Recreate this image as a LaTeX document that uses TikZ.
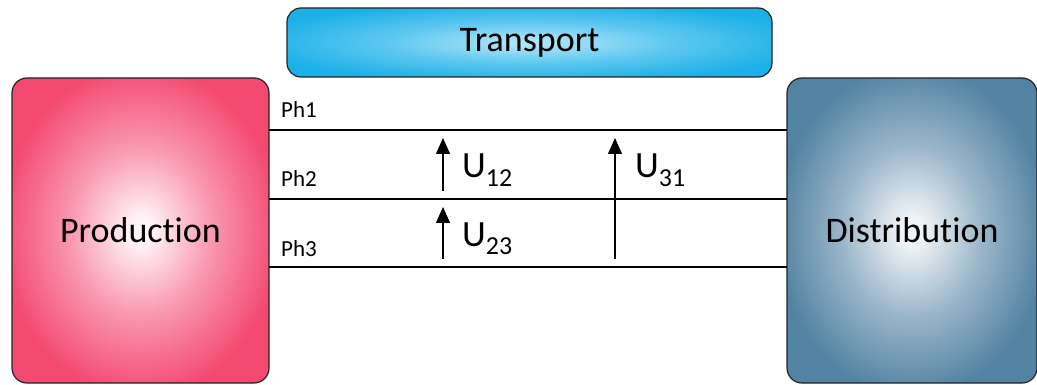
\documentclass[tikz,border=0pt]{standalone}
\usepackage{fontspec}
\setmainfont[Ligatures={NoCommon}]{Carlito}
\usetikzlibrary{arrows.meta}
\definecolor{prodin}{RGB}{255,244,248}
\definecolor{prodout}{RGB}{244,74,114}
\colorlet{prodmid}{prodout!55!prodin}
\definecolor{transin}{RGB}{172,228,248}
\definecolor{transout}{RGB}{27,176,232}
\colorlet{transmid}{transout!55!transin}
\definecolor{distin}{RGB}{242,245,248}
\definecolor{distout}{RGB}{83,131,163}
\colorlet{distmid}{distout!55!distin}
\definecolor{edge}{RGB}{35,35,35}
\pgfdeclareradialshading{prodshade}{\pgfpoint{0bp}{0bp}}{color(0bp)=(prodin); color(2bp)=(prodin); color(14bp)=(prodmid); color(27bp)=(prodout); color(50bp)=(prodout)}
\pgfdeclareradialshading{transshade}{\pgfpoint{0bp}{0bp}}{color(0bp)=(transin); color(2bp)=(transin); color(15bp)=(transmid); color(29bp)=(transout); color(50bp)=(transout)}
\pgfdeclareradialshading{distshade}{\pgfpoint{0bp}{0bp}}{color(0bp)=(distin); color(2bp)=(distin); color(14bp)=(distmid); color(27bp)=(distout); color(50bp)=(distout)}
\tikzset{
  bigbox/.style={draw=edge, line width=1.2pt, rounded corners=15pt, inner sep=0pt, font=\fontsize{36}{36}\selectfont},
  phline/.style={draw=black, line width=1.2pt},
  uarrow/.style={draw=black, line width=1.3pt, -{Triangle[width=14pt,length=16pt]}},
  phlabel/.style={anchor=base west, inner sep=0pt, font=\fontsize{23}{23}\selectfont},
  ulabel/.style={anchor=base west, inner sep=0pt, font=\fontsize{37}{37}\selectfont},
}
\begin{document}
\begin{tikzpicture}[x=1pt,y=-1pt]
\useasboundingbox (0,0) rectangle (1037,385);
\node[bigbox, shading=prodshade, minimum width=257pt, minimum height=305pt] (prod) at (140.5,230.5) {Production};
\node[bigbox, shading=distshade, minimum width=250pt, minimum height=305pt] (dist) at (912,230.5) {Distribution};
\node[bigbox, shading=transshade, rounded corners=14pt, minimum width=485pt, minimum height=69pt] (trans) at (529.5,42.5) {Transport};
% phase lines
\coordinate (l1) at (269,130);
\coordinate (l2) at (269,199);
\coordinate (l3) at (269,267);
\coordinate (r1) at (787,130);
\coordinate (r2) at (787,199);
\coordinate (r3) at (787,267);
\draw[phline] (l1) -- (r1);
\draw[phline] (l2) -- (r2);
\draw[phline] (l3) -- (r3);
\node[phlabel] (ph1) at (281,118) {Ph1};
\node[phlabel] (ph2) at (281,187) {Ph2};
\node[phlabel] (ph3) at (281,256) {Ph3};
% arrows
\coordinate (a1s) at (443,191);
\coordinate (a1e) at (443,138);
\coordinate (a2s) at (443,259);
\coordinate (a2e) at (443,207);
\coordinate (a3s) at (615,259);
\coordinate (a3e) at (615,138);
\draw[uarrow] (a1s) -- (a1e);
\draw[uarrow] (a2s) -- (a2e);
\draw[uarrow] (a3s) -- (a3e);
\node[ulabel] (u12) at (462,178) {U\textsubscript{12}};
\node[ulabel] (u23) at (462,246) {U\textsubscript{23}};
\node[ulabel] (u31) at (635,178) {U\textsubscript{31}};
\end{tikzpicture}
\end{document}
